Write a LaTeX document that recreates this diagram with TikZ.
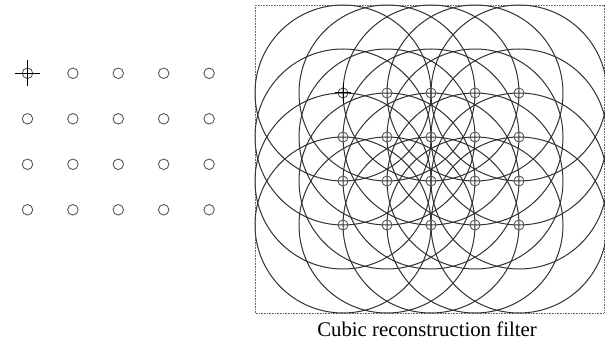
\documentclass[tikz,border=0pt]{standalone}
\usepackage{fontspec}
\setmainfont{Liberation Serif}
\begin{document}
\begin{tikzpicture}[x=1pt,y=-1pt,
  sample/.style={circle,draw=black!65,line width=0.9pt,minimum size=10.5pt,inner sep=0pt},
  rsample/.style={circle,draw=black!70,line width=0.85pt,minimum size=10pt,inner sep=0pt},
  support/.style={draw=black!80,line width=1pt},
  crossline/.style={draw=black,line width=1pt},
  frame/.style={draw=black!60,line width=0.7pt,dash pattern=on 0.8pt off 0.8pt}]
\useasboundingbox (0,0) rectangle (605,344);
\draw[frame] (255,5) rectangle (604,313);
% left sample grid
\foreach \i in {0,...,4}
  \foreach \j in {0,...,3}
    \node[sample] (L-\i-\j) at ({27.5+45.4*\i},{73.3+45.5*\j}) {};
\draw[crossline] ([xshift=-12.5pt]L-0-0.center) -- ([xshift=12.5pt]L-0-0.center);
\draw[crossline] ([yshift=-13pt]L-0-0.center) -- ([yshift=13pt]L-0-0.center);
% right sample grid with filter supports
\foreach \i in {0,...,4}
  \foreach \j in {0,...,3}
    \coordinate (C-\i-\j) at ({343+44*\i},{93+44*\j});
\foreach \i in {0,...,4}
  \foreach \j in {0,...,3}
    \draw[support] (C-\i-\j) circle [radius=88pt];
\foreach \i in {0,...,4}
  \foreach \j in {0,...,3}
    \node[rsample] (R-\i-\j) at (C-\i-\j) {};
\draw[crossline] ([xshift=-8pt]R-0-0.center) -- ([xshift=8pt]R-0-0.center);
\draw[crossline] ([yshift=-10pt]R-0-0.center) -- ([yshift=10pt]R-0-0.center);
\node[font=\fontsize{20.8}{24}\selectfont,anchor=base,inner sep=0pt] (cap) at (427,337) {Cubic reconstruction filter};
\end{tikzpicture}
\end{document}
